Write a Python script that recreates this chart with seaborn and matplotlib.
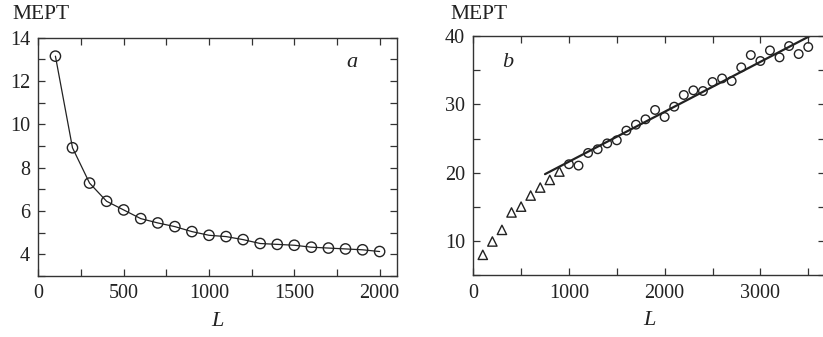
import matplotlib
matplotlib.use("Agg")
import matplotlib.pyplot as plt
import seaborn as sns
from matplotlib.ticker import MultipleLocator

# panel a
a_L = [100, 200, 300, 400, 500, 600, 700, 800, 900, 1000,
       1100, 1200, 1300, 1400, 1500, 1600, 1700, 1800, 1900, 2000]
a_mept = [13.15, 8.92, 7.29, 6.45, 6.05, 5.65, 5.45, 5.28, 5.05, 4.88,
          4.82, 4.68, 4.50, 4.46, 4.42, 4.33, 4.29, 4.25, 4.21, 4.13]

# panel b
b_tri_L = [100, 200, 300, 400, 500, 600, 700, 800, 900]
b_tri_mept = [8.0, 9.95, 11.65, 14.2, 15.05, 16.67, 17.84, 18.96, 20.18]
b_circ_L = [1000, 1100, 1200, 1300, 1400, 1500, 1600, 1700, 1800, 1900,
            2000, 2100, 2200, 2300, 2400, 2500, 2600, 2700, 2800, 2900,
            3000, 3100, 3200, 3300, 3400, 3500]
b_circ_mept = [21.25, 21.05, 22.9, 23.44, 24.3, 24.75, 26.17, 27.04, 27.82, 29.19,
               28.16, 29.67, 31.38, 32.06, 31.96, 33.28, 33.8, 33.42, 35.42, 37.22,
               36.35, 37.9, 36.88, 38.54, 37.37, 38.4]
b_fit_L = [750, 3530]
b_fit_mept = [19.8, 40.1]

sns.set_style("ticks")
plt.rcParams["font.family"] = ["Liberation Serif", "DejaVu Serif"]

fig = plt.figure(figsize=(8.23, 3.37), dpi=100)
ax1 = fig.add_axes([0.0466, 0.181, 0.4354, 0.707])
ax2 = fig.add_axes([0.575, 0.183, 0.428, 0.710])

edge = "#333333"


def style(ax):
    for s in ax.spines.values():
        s.set_color(edge)
        s.set_linewidth(1.0)
    ax.tick_params(which="both", direction="in", top=True, right=True,
                   color=edge, width=0.9, labelsize=14.5, labelcolor="#222222")
    ax.tick_params(which="major", length=5, pad=6)
    ax.tick_params(which="minor", length=5)


# panel a
sns.lineplot(x=a_L, y=a_mept, ax=ax1, color="#222222", linewidth=0.9)
sns.scatterplot(x=a_L, y=a_mept, ax=ax1, marker="o", s=55,
                facecolors="none", edgecolor="#222222", linewidth=1.0, zorder=3)
ax1.set_xlim(0, 2100)
ax1.set_ylim(3, 14)
ax1.xaxis.set_major_locator(MultipleLocator(500))
ax1.xaxis.set_minor_locator(MultipleLocator(250))
ax1.yaxis.set_major_locator(MultipleLocator(2))
ax1.yaxis.set_minor_locator(MultipleLocator(1))
style(ax1)
ax1.set_xlabel("L", fontsize=16, style="italic", labelpad=6, color="#222222")
ax1.set_ylabel("")
ax1.text(0.875, 0.894, "a", transform=ax1.transAxes, fontsize=16,
         style="italic", ha="center", va="center", color="#222222")
fig.text(0.0146, 0.958, "MEPT", fontsize=15.5, ha="left", va="center", color="#222222")

# panel b
sns.lineplot(x=b_fit_L, y=b_fit_mept, ax=ax2, color="#222222", linewidth=1.6)
sns.scatterplot(x=b_tri_L, y=b_tri_mept, ax=ax2, marker="^", s=45,
                facecolors="none", edgecolor="#222222", linewidth=1.0, zorder=3)
sns.scatterplot(x=b_circ_L, y=b_circ_mept, ax=ax2, marker="o", s=38,
                facecolors="none", edgecolor="#222222", linewidth=1.0, zorder=3)
ax2.set_xlim(0, 3680)
ax2.set_ylim(5, 40)
ax2.xaxis.set_major_locator(MultipleLocator(1000))
ax2.xaxis.set_minor_locator(MultipleLocator(500))
ax2.yaxis.set_major_locator(MultipleLocator(10))
ax2.yaxis.set_minor_locator(MultipleLocator(5))
style(ax2)
ax2.set_xlabel("L", fontsize=16, style="italic", labelpad=6, color="#222222")
ax2.set_ylabel("")
ax2.text(0.099, 0.89, "b", transform=ax2.transAxes, fontsize=16,
         style="italic", ha="center", va="center", color="#222222")
fig.text(0.547, 0.958, "MEPT", fontsize=15.5, ha="left", va="center", color="#222222")

fig.savefig("out.png", dpi=100)
plt.close(fig)
